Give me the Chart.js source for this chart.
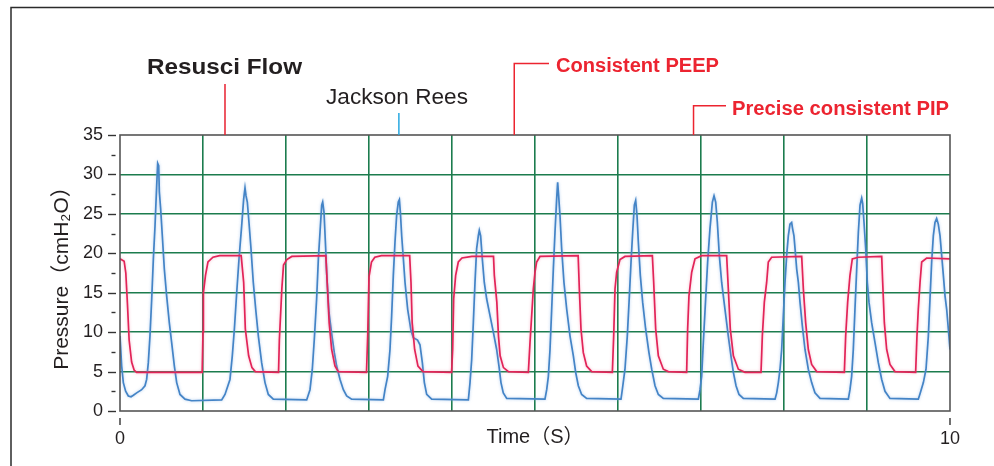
<!DOCTYPE html>
<html>
<head>
<meta charset="utf-8">
<script src="https://cdn.jsdelivr.net/npm/chart.js@4.4.1/dist/chart.umd.min.js"></script>
<style>
  html, body { margin: 0; padding: 0; background: #ffffff; }
  #wrap { position: relative; width: 994px; height: 466px; }
</style>
</head>
<body>
<div id="wrap"><canvas id="c" width="994" height="466"></canvas></div>
<script>
// ---- Data (time in s, pressure in cmH2O) ----
const redTime = [0.00,0.05,0.07,0.09,0.11,0.14,0.17,0.20,0.99,1.00,1.005,1.03,1.06,1.12,1.20,1.46,1.49,1.51,1.55,1.59,1.63,1.91,1.92,1.95,1.97,2.01,2.07,2.48,2.50,2.52,2.55,2.59,2.63,2.97,2.985,3.00,3.03,3.07,3.15,3.49,3.506,3.52,3.55,3.59,3.65,3.995,4.008,4.02,4.044,4.076,4.12,4.24,4.50,4.51,4.54,4.56,4.58,4.62,4.68,4.92,4.94,4.98,5.00,5.02,5.06,5.52,5.534,5.554,5.582,5.622,5.683,5.932,5.948,5.964,5.984,6.024,6.084,6.414,6.43,6.454,6.486,6.546,6.606,6.827,6.839,6.855,6.888,6.928,7.008,7.309,7.329,7.353,7.39,7.45,7.53,7.723,7.739,7.763,7.791,7.811,7.851,8.213,8.233,8.261,8.293,8.333,8.394,8.727,8.743,8.767,8.795,8.823,8.896,9.177,9.189,9.209,9.237,9.277,9.337,9.586,9.602,9.618,9.639,9.659,9.719,10.0];
const redPressure = [19.3,19.0,17.5,13.5,9.0,6.2,5.2,4.9,4.9,10.0,15.0,17.2,18.9,19.5,19.7,19.7,16.3,10.4,7.0,5.5,5.0,4.9,9.0,15.5,18.5,19.2,19.6,19.7,15.5,11.2,7.8,5.7,5.0,4.9,9.8,17.0,18.9,19.5,19.7,19.7,16.3,11.2,7.8,5.7,5.0,4.9,7.8,14.2,17.2,18.9,19.4,19.6,19.6,17.2,13.8,9.5,7.0,5.5,5.0,4.9,8.7,15.5,17.6,18.9,19.6,19.7,15.5,10.4,7.4,5.7,5.0,4.9,9.5,15.5,17.6,19.2,19.6,19.7,16.3,10.4,7.0,5.3,5.0,4.9,10.4,14.6,17.6,19.3,19.7,19.7,15.5,10.4,7.0,5.3,4.9,4.9,9.5,13.8,16.3,18.9,19.5,19.6,15.5,11.2,7.8,5.9,5.0,4.9,9.5,13.8,17.2,19.3,19.5,19.6,16.3,11.2,7.8,5.9,5.0,4.9,9.5,12.9,16.3,18.9,19.4,19.3];

const blueTime = [0.00,0.02,0.04,0.068,0.10,0.133,0.161,0.201,0.261,0.301,0.321,0.341,0.361,0.382,0.402,0.422,0.442,0.454,0.466,0.474,0.490,0.510,0.534,0.562,0.594,0.622,0.655,0.683,0.723,0.783,0.863,1.225,1.265,1.325,1.353,1.378,1.406,1.434,1.466,1.490,1.506,1.518,1.534,1.554,1.578,1.606,1.635,1.667,1.707,1.747,1.787,1.847,2.249,2.289,2.317,2.341,2.369,2.390,2.410,2.430,2.442,2.458,2.478,2.49,2.518,2.55,2.582,2.61,2.651,2.691,2.731,2.791,3.173,3.193,3.225,3.253,3.273,3.293,3.313,3.333,3.353,3.366,3.378,3.394,3.414,3.434,3.466,3.506,3.534,3.585,3.614,3.643,3.667,3.695,3.755,4.197,4.217,4.237,4.257,4.277,4.297,4.317,4.329,4.345,4.365,4.389,4.418,4.458,4.498,4.538,4.566,4.590,4.618,4.659,5.12,5.141,5.161,5.181,5.201,5.221,5.241,5.261,5.273,5.285,5.301,5.321,5.349,5.382,5.422,5.462,5.490,5.522,5.562,5.622,6.036,6.052,6.084,6.112,6.137,6.157,6.177,6.197,6.213,6.229,6.245,6.269,6.297,6.333,6.373,6.406,6.446,6.486,6.546,6.968,6.988,7.008,7.028,7.056,7.08,7.108,7.137,7.157,7.177,7.197,7.221,7.249,7.289,7.329,7.361,7.39,7.422,7.458,7.51,7.892,7.912,7.932,7.952,7.972,7.992,8.012,8.032,8.052,8.072,8.092,8.104,8.12,8.133,8.153,8.173,8.193,8.221,8.253,8.293,8.333,8.373,8.434,8.775,8.795,8.815,8.835,8.855,8.876,8.896,8.916,8.936,8.948,8.964,8.984,9.004,9.024,9.056,9.096,9.137,9.177,9.217,9.277,9.618,9.639,9.679,9.711,9.739,9.759,9.779,9.799,9.819,9.839,9.859,9.88,9.9,9.92,9.94,9.96,9.98,10.0];
const bluePressure = [9.5,5.7,3.6,2.5,1.9,1.8,2.0,2.3,2.7,3.2,4.0,6.1,9.5,14.2,19.3,23.5,28.6,31.4,31.1,27.8,25.6,22.2,18.0,14.6,11.2,8.7,5.7,3.6,2.1,1.5,1.3,1.4,2.1,4.0,7.0,10.4,15.0,19.3,23.5,26.9,28.3,27.3,26.5,23.9,20.6,16.3,12.9,9.5,6.1,3.6,2.1,1.5,1.4,2.7,5.3,9.1,14.2,19.3,22.7,26.1,26.5,25.2,20.6,17.5,12.5,9.8,7.4,5.7,4.0,2.7,1.9,1.5,1.4,2.7,4.4,7.8,12.1,17.2,21.4,24.8,26.5,26.8,25.2,22.2,19.3,16.3,12.9,10.2,9.3,9.0,8.4,6.1,3.6,2.1,1.5,1.4,3.6,6.5,11.2,16.3,20.6,22.2,22.9,22.2,19.3,16.3,14.2,12.1,10.0,7.8,5.7,3.6,2.3,1.6,1.5,2.7,4.4,7.8,12.9,18.0,22.7,26.9,29.0,27.3,24.8,20.6,16.3,12.9,9.5,7.0,4.9,3.2,2.1,1.6,1.5,2.7,5.3,9.5,14.6,18.9,22.7,26.1,26.7,24.8,21.4,17.2,13.8,10.4,7.4,5.3,3.2,2.1,1.6,1.5,2.7,4.4,8.7,14.2,18.9,23.1,26.5,27.3,26.5,23.9,19.7,16.3,12.9,9.5,7.0,4.9,3.2,2.1,1.6,1.5,2.3,3.6,5.3,7.8,12.1,16.3,19.7,22.2,23.7,23.9,23.1,22.2,20.6,18.0,16.3,13.8,10.8,7.8,5.3,3.6,2.3,1.6,1.5,2.7,4.4,7.8,12.9,18.0,22.7,26.1,27.0,26.3,23.9,20.6,16.3,13.8,11.2,8.7,6.1,4.0,2.5,1.6,1.5,2.2,3.6,5.3,9.5,14.2,18.9,22.2,23.9,24.4,23.7,22.2,19.7,17.2,14.6,12.9,10.4,7.8];

const xTickLabels = ['0', '10'];
const seriesNames = ['Resusci Flow', 'Jackson Rees'];

// ---- Styles ----
const GREEN = 'rgb(28,124,78)';
const RED_LINE = 'rgb(226,36,88)';
const BLUE_LINE = 'rgb(68,132,198)';
const ANN_RED = 'rgb(236,36,48)';
const TEXT = '#231f20';
const FONT = '"Liberation Sans", Arial, Helvetica, "Noto Sans CJK JP", sans-serif';

const toPts = (t, v) => t.map((x, i) => ({ x: x, y: v[i] }));

const interiorGrid = (lo, hi) => (ctx) => {
  const v = ctx.tick ? ctx.tick.value : null;
  return (v !== null && v > lo && v < hi) ? GREEN : 'rgba(0,0,0,0)';
};

const decorPlugin = {
  id: 'decor',
  beforeDatasetDraw(chart, args) {
    const ctx = chart.ctx;
    ctx.save();
    ctx.shadowBlur = 3;
    ctx.shadowColor = args.index === 0 ? 'rgba(240,130,160,0.55)' : 'rgba(130,175,230,0.6)';
  },
  afterDatasetDraw(chart) {
    chart.ctx.restore();
  },
  afterDraw(chart) {
    const ctx = chart.ctx;
    const a = chart.chartArea;
    const xs = chart.scales.x, ys = chart.scales.y;
    ctx.save();
    // outer frame (top and left)
    ctx.strokeStyle = '#2b2b2b';
    ctx.lineWidth = 1.5;
    ctx.beginPath();
    ctx.moveTo(11, 466); ctx.lineTo(11, 7.5); ctx.lineTo(994, 7.5);
    ctx.stroke();

    // plot border
    ctx.strokeStyle = '#555555';
    ctx.lineWidth = 1.6;
    ctx.strokeRect(a.left, a.top, a.right - a.left, a.bottom - a.top);

    // y tick dashes (major every 5, minor every 2.5)
    ctx.strokeStyle = '#333333';
    ctx.lineWidth = 1.4;
    for (let v = 0; v <= 35.001; v += 2.5) {
      const y = Math.round(ys.getPixelForValue(v)) + 0.5;
      const major = Math.abs(v / 5 - Math.round(v / 5)) < 1e-6;
      ctx.beginPath();
      if (major) { ctx.moveTo(a.left - 12, y); ctx.lineTo(a.left - 4, y); }
      else { ctx.moveTo(a.left - 8.5, y); ctx.lineTo(a.left - 4.5, y); }
      ctx.stroke();
    }
    // x tick marks at 0 and 10
    [0, 10].forEach(v => {
      const x = xs.getPixelForValue(v);
      ctx.beginPath();
      ctx.moveTo(x, a.bottom + 7); ctx.lineTo(x, a.bottom + 14);
      ctx.stroke();
    });

    // annotations: text fitted to its width by horizontal scaling
    const fitText = (txt, font, color, left, base, width) => {
      ctx.save();
      ctx.font = font;
      ctx.fillStyle = color;
      ctx.textAlign = 'left';
      ctx.textBaseline = 'alphabetic';
      const w = ctx.measureText(txt).width;
      const sx = width / w;
      ctx.translate(left, base);
      ctx.scale(sx, 1);
      ctx.fillText(txt, 0, 0);
      ctx.restore();
    };
    // Resusci Flow
    fitText(seriesNames[0], 'bold 22px ' + FONT, TEXT, 147, 74, 155);
    ctx.strokeStyle = 'rgb(232,32,48)';
    ctx.lineWidth = 1.5;
    let x = xs.getPixelForValue(1.265);
    ctx.beginPath(); ctx.moveTo(x, 84); ctx.lineTo(x, a.top); ctx.stroke();
    // Jackson Rees
    fitText(seriesNames[1], '22.5px ' + FONT, TEXT, 326, 104, 142);
    ctx.strokeStyle = 'rgb(40,168,225)';
    x = xs.getPixelForValue(3.36);
    ctx.beginPath(); ctx.moveTo(x, 113); ctx.lineTo(x, a.top); ctx.stroke();
    // Consistent PEEP
    fitText('Consistent PEEP', 'bold 19.5px ' + FONT, ANN_RED, 556, 72, 163);
    ctx.strokeStyle = ANN_RED;
    x = xs.getPixelForValue(4.75);
    ctx.beginPath(); ctx.moveTo(x, a.top); ctx.lineTo(x, 63.5); ctx.lineTo(549, 63.5); ctx.stroke();
    // Precise consistent PIP
    fitText('Precise consistent PIP', 'bold 19.5px ' + FONT, ANN_RED, 732, 115, 217);
    x = xs.getPixelForValue(6.91);
    ctx.beginPath(); ctx.moveTo(x, a.top); ctx.lineTo(x, 105.7); ctx.lineTo(726, 105.7); ctx.stroke();
    ctx.restore();
  }
};

new Chart(document.getElementById('c'), {
  type: 'line',
  data: {
    datasets: [
      { label: seriesNames[0], data: toPts(redTime, redPressure), borderColor: RED_LINE,
        borderWidth: 1.7, pointRadius: 0, tension: 0, fill: false },
      { label: seriesNames[1], data: toPts(blueTime, bluePressure), borderColor: BLUE_LINE,
        borderWidth: 1.7, pointRadius: 0, tension: 0, fill: false }
    ]
  },
  options: {
    responsive: false,
    animation: false,
    events: [],
    layout: { padding: { left: 0, top: 135, right: 44, bottom: 0 } },
    plugins: { legend: { display: false }, tooltip: { enabled: false } },
    scales: {
      x: {
        type: 'linear', min: 0, max: 10,
        afterFit: (s) => { s.height = 55; },
        border: { display: false },
        grid: { color: interiorGrid(0, 10), lineWidth: 1.6, drawTicks: false },
        ticks: {
          stepSize: 1, autoSkip: false, maxRotation: 0, padding: 17,
          color: TEXT, font: { family: FONT, size: 18 },
          callback: (v) => xTickLabels.includes(String(v)) ? String(v) : ''
        },
        title: { display: true, text: 'Time（S）', color: TEXT,
          font: { family: FONT, size: 20 }, padding: { top: 0, bottom: 17 } }
      },
      y: {
        min: 0, max: 35,
        afterFit: (s) => { s.width = 120; },
        border: { display: false },
        grid: { color: interiorGrid(0, 35), lineWidth: 1.6, drawTicks: false },
        ticks: { stepSize: 5, padding: 17, color: TEXT, font: { family: FONT, size: 18 } },
        title: { display: true, text: 'Pressure（cmH₂O）', color: TEXT,
          font: { family: FONT, size: 21 }, padding: { top: 50, bottom: 0 } }
      }
    }
  },
  plugins: [decorPlugin]
});
</script>
</body>
</html>
